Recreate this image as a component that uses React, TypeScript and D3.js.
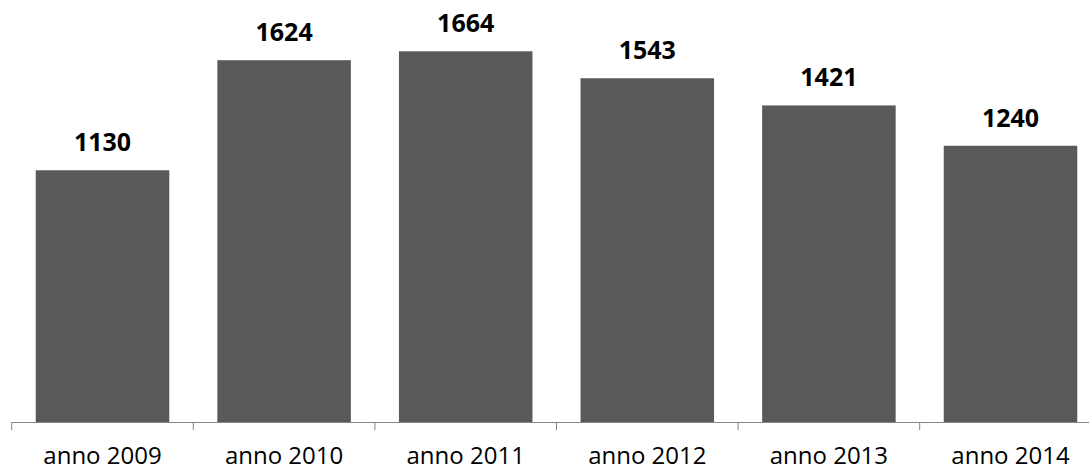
import React from "react";
import * as d3 from "d3";

// Yearly totals
const categories: string[] = ["anno 2009", "anno 2010", "anno 2011", "anno 2012", "anno 2013", "anno 2014"];
const values: number[] = [1130, 1624, 1664, 1543, 1421, 1240];
const yDomainMax = 1800;

const W = 1089;
const H = 470;
const left = 11.7;
const right = 1101.3;
const baseline = 422;
const top = 21;
const gapWidth = 0.36;

export default function App() {
  const p = 1 - 1 / (1 + gapWidth);
  const x = d3.scaleBand<string>().domain(categories).range([left, right]).paddingInner(p).paddingOuter(p / 2);
  const y = d3.scaleLinear().domain([0, yDomainMax]).range([baseline, top]);
  const step = x.step();
  const font = "'Open Sans', 'Liberation Sans', sans-serif";

  return (
    <svg width={W} height={H} style={{ position: "absolute", left: 0, top: 0, background: "#fff" }}>
      {categories.map((c, i) => (
        <rect key={c} x={x(c)} y={y(values[i])} width={x.bandwidth()} height={baseline - y(values[i])} fill="#595959" />
      ))}
      <line x1={left} x2={right} y1={baseline + 0.5} y2={baseline + 0.5} stroke="#868686" strokeWidth={1} />
      {d3.range(categories.length + 1).map((i) => (
        <line key={i} x1={left + i * step} x2={left + i * step} y1={baseline} y2={baseline + 8} stroke="#868686" strokeWidth={1} />
      ))}
      {categories.map((c, i) => (
        <text key={"v" + c} x={x(c)! + x.bandwidth() / 2} y={y(values[i]) - 19} textAnchor="middle"
          fontFamily={font} fontWeight="bold" fontSize={25} fill="#000">
          {values[i]}
        </text>
      ))}
      {categories.map((c) => (
        <text key={"c" + c} x={x(c)! + x.bandwidth() / 2} y={464} textAnchor="middle"
          fontFamily={font} fontSize={24} fill="#000">
          {c}
        </text>
      ))}
    </svg>
  );
}
